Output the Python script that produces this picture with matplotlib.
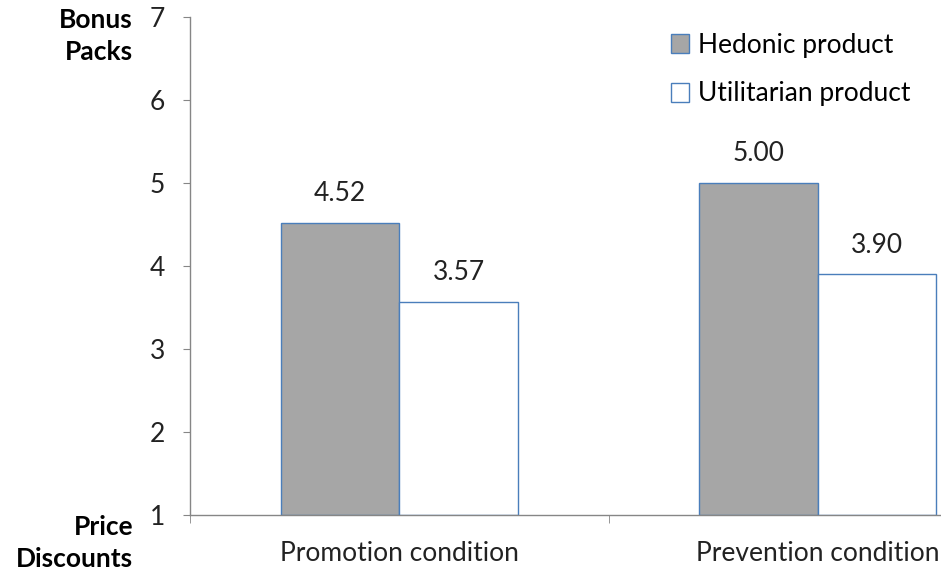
import matplotlib
matplotlib.use("Agg")
import matplotlib.pyplot as plt
from matplotlib.patches import Patch

# data
conditions = ["Promotion condition", "Prevention condition"]
hedonic = [4.52, 5.00]
utilitarian = [3.57, 3.90]
series_names = ["Hedonic product", "Utilitarian product"]
y_ticks = [1, 2, 3, 4, 5, 6, 7]

plt.rcParams["font.family"] = ["Lato", "DejaVu Sans"]

EDGE = "#4a7ebb"
GRAY = "#a6a6a6"
AXIS = "#868686"
FS = 19

fig = plt.figure(figsize=(9.41, 5.78), dpi=100)
# the original figure is cropped on the right, so the axes run past the edge
ax = fig.add_axes([190 / 941, 63 / 578, 837 / 941, 498 / 578])

width = 0.283
x = list(range(len(conditions)))
base = 1
b1 = ax.bar([i - width / 2 for i in x], [v - base for v in hedonic], width,
            bottom=base, color=GRAY, edgecolor=EDGE, linewidth=1.0)
b2 = ax.bar([i + width / 2 for i in x], [v - base for v in utilitarian], width,
            bottom=base, color="white", edgecolor=EDGE, linewidth=1.0)

for bars, vals in ((b1, hedonic), (b2, utilitarian)):
    for rect, v in zip(bars, vals):
        ax.text(rect.get_x() + rect.get_width() / 2, v + 0.2, f"{v:.2f}",
                ha="center", va="bottom", fontsize=FS, color="#222222")

ax.set_xlim(-0.5, 1.5)
ax.set_ylim(1, 7)
ax.set_yticks(y_ticks)
ax.set_xticks(x)
ax.set_xticklabels(conditions)
ax.set_xticks([-0.5, 0.5, 1.5], minor=True)

for s in ("top", "right"):
    ax.spines[s].set_visible(False)
for s in ("left", "bottom"):
    ax.spines[s].set_color(AXIS)
    ax.spines[s].set_linewidth(1.0)

ax.tick_params(axis="y", direction="out", length=5, color=AXIS, labelsize=FS,
               pad=13, labelcolor="#222222")
ax.tick_params(axis="x", which="major", length=0, labelsize=FS, pad=19,
               labelcolor="#222222")
ax.tick_params(axis="x", which="minor", direction="out", length=6, color=AXIS)

# end-of-scale labels
fig.text(133 / 941, 1 - 36 / 578, "Bonus\nPacks", ha="right", va="center",
         fontsize=FS, fontweight="bold", linespacing=1.42)
fig.text(133 / 941, 1 - 543 / 578, "Price\nDiscounts", ha="right", va="center",
         fontsize=FS, fontweight="bold", linespacing=1.42)

handles = [Patch(facecolor=GRAY, edgecolor=EDGE, label=series_names[0]),
           Patch(facecolor="white", edgecolor=EDGE, label=series_names[1])]
fig.legend(handles=handles, loc="upper left",
           bbox_to_anchor=(647 / 941, 1 - 9 / 578), frameon=False,
           fontsize=FS, handlelength=0.7, handleheight=0.7,
           handletextpad=0.35, labelspacing=0.9)

fig.savefig("out.png", dpi=100)
